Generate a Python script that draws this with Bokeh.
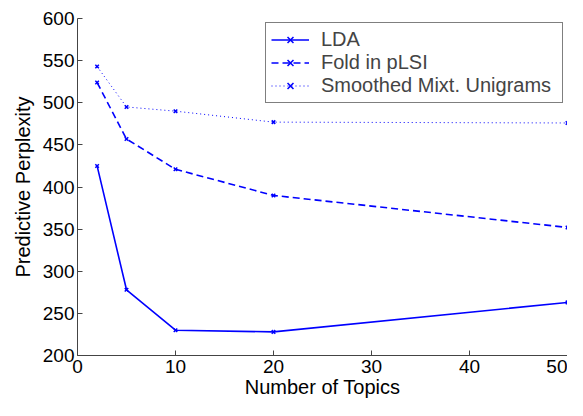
from bokeh.plotting import figure
from bokeh.models import Range1d, FixedTicker, Legend, LegendItem
from bokeh.embed import file_html
from bokeh.resources import INLINE

topics = [2, 5, 10, 20, 50]
lda = [425, 278, 230, 228, 263]
plsi = [524, 457, 421, 390, 352]
mixt = [543, 495, 490, 477, 476]
series_names = ["LDA", "Fold in pLSI", "Smoothed Mixt. Unigrams"]
x_ticks = [0, 10, 20, 30, 40, 50]
y_ticks = [200, 250, 300, 350, 400, 450, 500, 550, 600]

FONT = "Liberation Sans"

p = figure(width=567, height=400, output_backend="svg", toolbar_location=None,
           x_range=Range1d(0, 50), y_range=Range1d(200, 600),
           min_border_left=77, min_border_right=0, min_border_top=18, min_border_bottom=30)
p.outline_line_color = None
p.xgrid.visible = False
p.ygrid.visible = False

for ax in (p.xaxis[0], p.yaxis[0]):
    ax.axis_line_color = "#444444"
    ax.major_tick_line_color = "#444444"
    ax.major_tick_in = 5
    ax.major_tick_out = 0
    ax.minor_tick_line_color = None
    ax.major_label_text_font = FONT
    ax.major_label_text_font_size = "19px"
    ax.major_label_text_color = "black"
    ax.axis_label_text_font = FONT
    ax.axis_label_text_font_size = "20px"
    ax.axis_label_text_font_style = "normal"
    ax.axis_label_text_color = "black"

p.xaxis.ticker = FixedTicker(ticks=x_ticks)
p.yaxis.ticker = FixedTicker(ticks=y_ticks)
p.xaxis.axis_label = "Number of Topics"
p.yaxis.axis_label = "Predictive Perplexity"
p.xaxis.major_label_standoff = 4
p.yaxis.major_label_standoff = 3
p.xaxis.axis_label_standoff = 0
p.yaxis.axis_label_standoff = 6

dashes = ["solid", "7 4", "1 3"]
widths = [1.6, 1.6, 1.0]
items = []
for name, ys, dash, w in zip(series_names, [lda, plsi, mixt], dashes, widths):
    r1 = p.line(topics, ys, line_color="#0000ff", line_width=w, line_dash=dash)
    r2 = p.scatter(topics, ys, marker="x", size=5, line_color="#0000ff", line_width=1.5)
    items.append(LegendItem(label=name, renderers=[r1, r2]))

legend = Legend(items=items, location="top_right")
legend.margin = 4
legend.padding = 5
legend.spacing = 0
legend.border_line_color = "black"
legend.border_line_width = 1.5
legend.label_text_font = FONT
legend.label_text_font_size = "20px"
legend.label_height = 21
legend.glyph_height = 21
legend.glyph_width = 38
legend.label_standoff = 12
legend.label_width = 236
legend.background_fill_alpha = 1.0
p.add_layout(legend, "center")

open("out.html", "w").write(file_html(p, INLINE))
